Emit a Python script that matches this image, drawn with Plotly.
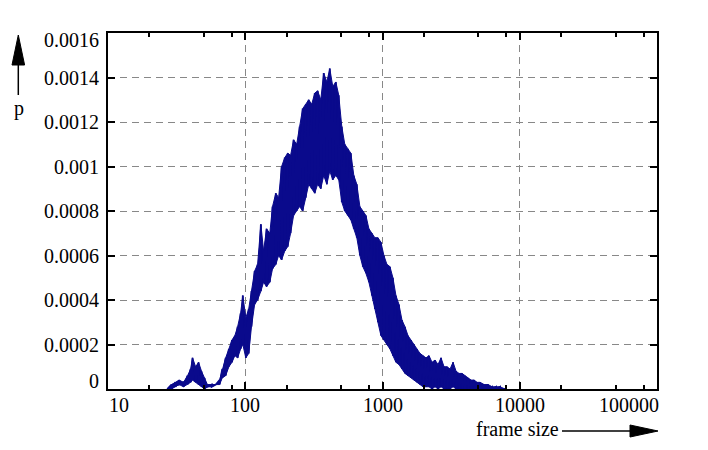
import math
import plotly.graph_objects as go

# ---- data (frame size, p upper / lower envelope in 1e-5 units) ----
frame_size = [27, 29, 31, 33, 35.5, 38, 40, 41.3, 43.5, 45.7, 48, 50.6, 53, 57, 61, 65,
              68, 72, 76, 80, 84, 88, 92.5, 96,
              101, 106, 111, 117, 123, 130, 136, 143, 151, 158,
              167, 175, 184, 194, 204, 214, 225, 237, 249, 262,
              276, 290, 305, 321, 337, 355, 373, 393, 413, 434,
              457, 480, 505, 531, 559, 588, 618, 650, 684, 719,
              757, 796, 837, 880, 926, 974, 1024, 1077, 1133, 1191,
              1253, 1318, 1386, 1458, 1533, 1612, 1696, 1784, 1876, 1973,
              2075, 2182, 2295, 2414, 2539, 2670, 2808, 2954, 3107, 3267,
              3436, 3614, 3801, 3998, 4205, 4422, 4651, 4892, 5145,
              5501, 5882, 6290, 6726, 7192, 7806]

p_hi_e5 = [0, 2, 3, 4, 3, 6, 9, 14, 10, 12, 8, 5, 2, 2, 2, 4,
           9, 14, 18, 22, 24, 28, 34, 42,
           32, 36, 44, 53, 56, 74, 62, 72, 70, 82,
           88, 86, 100, 104, 106, 105, 112, 110, 118, 126,
           128, 130, 128, 133, 134, 130, 142, 138, 144, 136,
           138, 132, 118, 110, 108, 106, 96, 92, 82, 80,
           78, 72, 70, 68, 68, 66, 60, 56, 55, 50,
           42, 38, 31, 28, 24, 22, 20, 18, 16, 15,
           14, 15, 12, 13, 11, 14, 10, 10, 9, 12,
           8, 7, 7, 6, 5, 4, 4, 3, 3,
           2, 2, 1, 1, 1, 0]

p_lo_e5 = [0, 0, 1, 2, 1, 2, 3, 4, 3, 2, 1, 0, 1, 1, 2, 2,
           5, 6, 10, 12, 15, 14, 18, 20,
           14, 16, 28, 38, 40, 44, 48, 46, 48, 54,
           56, 60, 58, 62, 64, 70, 78, 80, 82, 80,
           86, 92, 90, 88, 92, 90, 96, 92, 98, 94,
           96, 94, 84, 80, 78, 76, 72, 68, 60, 55,
           52, 48, 42, 36, 30, 24, 22, 20, 18, 15,
           12, 11, 9, 7, 6, 5, 4, 3, 2, 1,
           1, 1, 0, 1, 0, 1, 0, 0, 0, 1,
           0, 0, 0, 0, 0, 0, 0, 0, 0,
           0, 0, 0, 0, 0, 0]

x_ticks = [10, 100, 1000, 10000, 100000]
x_tick_labels = ["10", "100", "1000", "10000", "100000"]
x_minor = [20, 50, 80, 200, 500, 800, 2000, 5000, 8000, 20000, 50000, 80000]
y_ticks = [0, 0.0002, 0.0004, 0.0006, 0.0008, 0.001, 0.0012, 0.0014, 0.0016]
y_tick_labels = ["0", "0.0002", "0.0004", "0.0006", "0.0008", "0.001", "0.0012", "0.0014", "0.0016"]

COLOR = "#0a0a8c"

# interleave envelope into one jagged trace
xs, ys = [], []
for f, hi, lo in zip(frame_size, p_hi_e5, p_lo_e5):
    xs += [f, f]
    ys += [hi * 1e-5, lo * 1e-5]
band_x = frame_size + frame_size[::-1]
band_y = [v * 1e-5 for v in p_hi_e5] + [v * 1e-5 for v in p_lo_e5[::-1]]

FONT = "Liberation Serif"
# page body has an 8px margin, so the figure is 8px smaller and margins shifted
OFF = 8
W, H = 708 - OFF, 450 - OFF
L, R, T, B = 108 - OFF, 51, 33 - OFF, 61
PW, PH = W - L - R, H - T - B

def px(xp):
    return (xp - OFF - L) / PW

def py(yp):
    return (H - B - (yp - OFF)) / PH

fig = go.Figure()
fig.add_trace(go.Scatter(x=band_x, y=band_y, mode="lines", fill="toself", fillcolor=COLOR,
                         line=dict(color=COLOR, width=1), hoverinfo="skip"))
fig.add_trace(go.Scatter(x=xs, y=ys, mode="lines",
                         line=dict(color=COLOR, width=1.8), hoverinfo="skip"))

axis_common = dict(showline=True, linecolor="black", linewidth=2, mirror="allticks",
                   ticks="inside", ticklen=7, tickwidth=1.5, tickcolor="black",
                   showticklabels=False, zeroline=False,
                   showgrid=True, gridcolor="#888888", gridwidth=1, griddash="7px,5px")

fig.update_xaxes(type="log", range=[1, 5], tickvals=x_ticks,
                 minor=dict(tickvals=x_minor, ticks="inside", ticklen=4, tickwidth=1.5,
                            tickcolor="black", showgrid=False),
                 **axis_common)
fig.update_yaxes(range=[0, 0.0016], tickvals=y_ticks, **axis_common)

ann = []
tf = dict(family=FONT, size=20, color="black")
for v, t in zip(x_ticks, x_tick_labels):
    shift = 0
    if v == x_ticks[0]:
        shift = 11
    elif v == x_ticks[-1]:
        shift = -28
    ann.append(dict(x=math.log10(v), xref="x", y=0, yref="paper", text=t, showarrow=False,
                    xanchor="center", yanchor="top", xshift=shift, yshift=-3, font=tf))
for v, t in zip(y_ticks, y_tick_labels):
    shift = 0
    if v == y_ticks[0]:
        shift = 8
    elif v == y_ticks[-1]:
        shift = -7
    ann.append(dict(x=0, xref="paper", y=v, yref="y", text=t, showarrow=False,
                    xanchor="right", yanchor="middle", xshift=-7, yshift=shift, font=tf))
ann.append(dict(x=px(18.5), xref="paper", y=py(108), yref="paper", text="p", showarrow=False,
                xanchor="center", yanchor="middle", font=tf))
ann.append(dict(x=px(561), xref="paper", y=py(429), yref="paper", text="frame size",
                showarrow=False, xanchor="right", yanchor="middle", font=tf))

shapes = [
    dict(type="line", xref="paper", yref="paper", x0=px(562), x1=px(632), y0=py(431), y1=py(431),
         line=dict(color="black", width=1.5)),
    dict(type="path", xref="paper", yref="paper",
         path=f"M {px(630)},{py(425)} L {px(658)},{py(431)} L {px(630)},{py(437)} Z",
         fillcolor="black", line=dict(color="black", width=1)),
    dict(type="line", xref="paper", yref="paper", x0=px(18.3), x1=px(18.3), y0=py(95), y1=py(63),
         line=dict(color="black", width=1.5)),
    dict(type="path", xref="paper", yref="paper",
         path=f"M {px(12)},{py(65)} L {px(18.3)},{py(35)} L {px(24.6)},{py(65)} Z",
         fillcolor="black", line=dict(color="black", width=1)),
]

fig.update_layout(width=W, height=H, margin=dict(l=L, r=R, t=T, b=B, pad=0),
                  paper_bgcolor="white", plot_bgcolor="white", showlegend=False,
                  annotations=ann, shapes=shapes)

fig.write_html("out.html")
